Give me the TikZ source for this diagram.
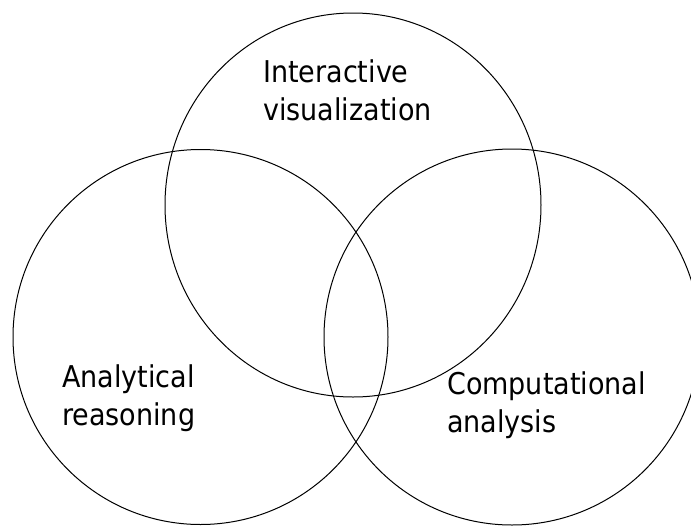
\documentclass[tikz,border=0pt]{standalone}
\usepackage{fontspec}
\setmainfont{DejaVu Sans Condensed}
\usepackage{tikz}
\usetikzlibrary{positioning}

\tikzset{
  venn/.style={line width=1pt},
  setlabel/.style={anchor=base west,inner sep=0pt,align=left,
    font=\fontsize{30}{38}\selectfont}
}

\begin{document}
\begin{tikzpicture}[x=1pt,y=-1pt]
\useasboundingbox (0,0) rectangle (691,528);
\draw [venn] (353,205) ellipse (188 and 192);
\draw [venn] (200.5,337) circle (187.5);
\draw [venn] (512,337) circle (188);

% base anchor sits on the last line
\node[setlabel] (visual) at (263,120) {Interactive\\visualization};
\node[setlabel] (reason) at (62,425) {Analytical\\reasoning};
\node[setlabel] (comput) at (447,432) {Computational\\analysis};

\end{tikzpicture}
\end{document}
